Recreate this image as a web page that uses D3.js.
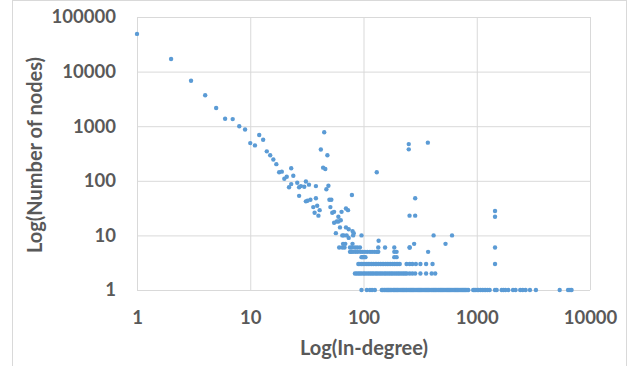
<!DOCTYPE html>
<html>
<head>
<meta charset="utf-8">
<script src="https://cdn.jsdelivr.net/npm/d3@7"></script>
<style>
  body { margin: 0; background: #fff; }
  text { font-family: Lato, "Open Sans", sans-serif; font-weight: bold; fill: #595959; }
</style>
</head>
<body>
<script>
// degree / count pairs for the spread-out points
var headPoints = [
  [1,49000],[2,17000],[3,6800],[4,3700],[5,2150],[6,1370],[7,1350],[8,1000],[9,870],
  [10,490],[11,445],[12,690],[13,565],[14,346],[15,293],[16,245],[17,202],[18,143],[19,147],
  [20,109],[21,119],[23,170],[24,124],[22,76],[23,87],[26,92],[27,76],[28,80],[30,78],
  [31,97],[33,85],[38,80],[27,53],[31,42],[32,43],[34,45],[38,48],[36,33],[39,35],[37,26],
  [40,23],[41,29],[42,375],[45,775],[48,293],[44,174],[46,164],[47,70],[49,81],[50,45],
  [52,45],[51,33],[53,26],[55,27],[64,27],[70,31],[73,29],[79,55],[55,17],[58,18],[60,18],
  [63,19],[60,22],[62,14],[57,11],[70,14],[74,13],[65,10],[67,10],[71,10],[74,9],[80,12],
  [82,11],[81,10],[66,7],[69,7],[80,7],[96,10],[136,8]
];
var tailPoints = [
  [131,143],[251,470],[251,377],[370,500],[286,48],[255,23],[286,23],[1450,28],[1450,22],
  [1450,6],[1450,3],[416,10],[605,10],[530,7],[280,7],[255,6],[372,5]
];
// in-degrees of the flat rows at small counts
var countSix = [61,65,68,76,79,84,88,93,135,155,187,256];
var countFive = [76,78,81,85,89,94,98,103,108,114,119,125,131,135,187,196];
var countFour = [96,98,101,104,187,196];
var countThree = [90,93,96,99,103,107,110,114,118,122,127,131,136,141,146,151,157,162,168,
  174,181,187,194,201,209,240,256,270,290,318,357,407];
var countTwo = [84,87,90,93,96,100,103,107,111,115,119,123,128,132,137,142,147,153,158,164,
  170,176,182,189,196,203,210,218,226,234,242,256,270,286,318,357,400,430];
var countOne = [96,107,114,119,126,145,148,152,155,159,163,166,170,174,178,183,187,191,196,
  200,205,210,215,220,225,230,236,241,247,253,259,265,271,277,284,291,298,305,312,319,327,
  335,343,351,359,368,376,385,395,404,414,424,434,444,455,465,477,488,500,512,524,537,550,
  563,576,590,604,618,633,648,663,679,695,712,729,746,764,782,800,820,842,930,950,980,1010,
  1040,1080,1120,1160,1200,1250,1300,1450,1500,1660,1720,1790,1900,2090,2200,2420,2550,
  2700,2950,3330,5400,6400,6650,6870];

var xTicks = [1, 10, 100, 1000, 10000];
var yTicks = [1, 10, 100, 1000, 10000, 100000];

var rows = [[countSix,6],[countFive,5],[countFour,4],[countThree,3],[countTwo,2],[countOne,1]];
var data = headPoints.concat(tailPoints);
rows.forEach(function(r) {
  r[0].forEach(function(d) { data.push([d, r[1]]); });
});

var margin = {top: 17, right: 40, bottom: 76, left: 137},
    width = 630 - margin.left - margin.right,
    height = 366 - margin.top - margin.bottom;

var svg0 = d3.select("body").append("svg")
  .attr("width", 630)
  .attr("height", 366);

// chart border
svg0.append("rect")
  .attr("x", 12.5).attr("y", 0.5)
  .attr("width", 614).attr("height", 380)
  .attr("fill", "none").attr("stroke", "#d9d9d9");

var svg = svg0.append("g")
  .attr("transform", "translate(" + margin.left + "," + margin.top + ")");

var x = d3.scaleLog().domain([1, 10000]).range([0, width]);
var y = d3.scaleLog().domain([1, 100000]).range([height, 0]);

// grid
svg.append("g")
  .attr("transform", "translate(0," + height + ")")
  .call(d3.axisBottom(x).tickValues(xTicks).tickSize(-height).tickFormat(""))
  .call(function(g) { g.select(".domain").remove(); })
  .selectAll("line").attr("stroke", "#d9d9d9");
svg.append("g")
  .call(d3.axisLeft(y).tickValues(yTicks).tickSize(-width).tickFormat(""))
  .call(function(g) { g.select(".domain").remove(); })
  .selectAll("line").attr("stroke", "#d9d9d9");

// tick labels
svg.append("g")
  .attr("transform", "translate(0," + height + ")")
  .call(d3.axisBottom(x).tickValues(xTicks).tickSize(0).tickPadding(21).tickFormat(d3.format("d")))
  .call(function(g) { g.select(".domain").remove(); })
  .selectAll("text").style("font-size", "18.5px").attr("fill", "#595959");
svg.append("g")
  .call(d3.axisLeft(y).tickValues(yTicks).tickSize(0).tickPadding(21).tickFormat(d3.format("d")))
  .call(function(g) { g.select(".domain").remove(); })
  .selectAll("text").style("font-size", "18.5px").attr("fill", "#595959");

// points
svg.append("g")
  .selectAll("circle").data(data).enter().append("circle")
  .attr("cx", function(d) { return x(d[0]); })
  .attr("cy", function(d) { return y(d[1]); })
  .attr("r", 2.2)
  .attr("fill", "#5b9bd5");

// axis titles
svg0.append("text")
  .attr("x", 364)
  .attr("y", 355)
  .attr("text-anchor", "middle")
  .style("font-size", "20px")
  .text("Log(In-degree)");
svg0.append("text")
  .attr("transform", "translate(42,155) rotate(-90)")
  .attr("text-anchor", "middle")
  .style("font-size", "20px")
  .text("Log(Number of nodes)");
</script>
</body>
</html>
